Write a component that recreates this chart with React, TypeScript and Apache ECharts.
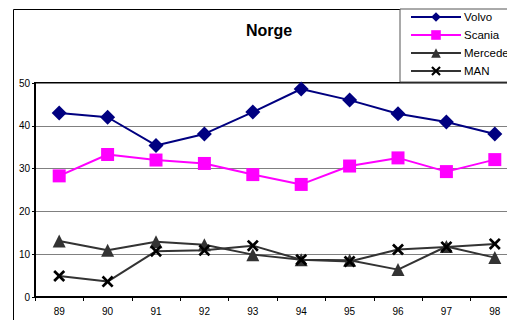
import React, { useEffect, useRef } from "react";
import * as echarts from "echarts";

const categories = ["89", "90", "91", "92", "93", "94", "95", "96", "97", "98"];
const volvo = [43.0, 42.0, 35.4, 38.1, 43.2, 48.6, 46.0, 42.8, 40.9, 38.1];
const scania = [28.3, 33.3, 32.0, 31.2, 28.6, 26.3, 30.6, 32.5, 29.3, 32.1];
const mercedes = [13.1, 10.9, 12.9, 12.2, 9.9, 8.7, 8.6, 6.4, 11.8, 9.2];
const man = [4.9, 3.6, 10.7, 10.9, 12.0, 8.7, 8.3, 11.1, 11.7, 12.4];
const yTicks = { min: 0, max: 50, interval: 10 };

const xSymbol =
  "path://M0,1.6 L1.6,0 L5,3.4 L8.4,0 L10,1.6 L6.6,5 L10,8.4 L8.4,10 L5,6.6 L1.6,10 L0,8.4 L3.4,5 Z";

const FONT = "Liberation Sans, Arial, sans-serif";

export default function App() {
  const ref = useRef<HTMLDivElement>(null);
  useEffect(() => {
    if (!ref.current) return;
    const chart = echarts.init(ref.current, null, { renderer: "svg" });
    chart.setOption({
      animation: false,
      backgroundColor: "#ffffff",
      textStyle: { fontFamily: FONT },
      graphic: [
        {
          type: "rect",
          shape: { x: 13.5, y: 9.5, width: 600, height: 400 },
          style: { fill: "none", stroke: "#000", lineWidth: 1 },
          z: 0,
        },
        {
          type: "text",
          x: 269,
          y: 30,
          style: {
            text: "Norge",
            font: "bold 16px " + FONT,
            fill: "#000",
            textAlign: "center",
            textVerticalAlign: "middle",
          },
        },
      ],
      legend: {
        orient: "vertical",
        left: 400,
        top: 9,
        padding: [2, 60, 5, 10],
        itemWidth: 50,
        itemHeight: 12,
        itemGap: 6,
        borderColor: "#555",
        borderWidth: 1,
        backgroundColor: "#fff",
        textStyle: { fontSize: 11.5, color: "#000", fontFamily: FONT, padding: [0, 0, 0, -2] },
        data: ["Volvo", "Scania", "Mercedes", "MAN"],
      },
      grid: {
        left: 35,
        top: 83,
        right: 11,
        bottom: 23,
        show: true,
        borderColor: "#000",
        borderWidth: 2,
      },
      xAxis: {
        type: "category",
        data: categories,
        boundaryGap: true,
        axisLine: { lineStyle: { color: "#000", width: 2 } },
        axisTick: { show: true, length: 4, lineStyle: { color: "#000", width: 1 } },
        axisLabel: { fontSize: 10, color: "#000", margin: 9, fontFamily: FONT },
      },
      yAxis: {
        type: "value",
        min: yTicks.min,
        max: yTicks.max,
        interval: yTicks.interval,
        axisLine: { show: true, lineStyle: { color: "#000", width: 2 } },
        axisTick: { show: true, length: 3, lineStyle: { color: "#000" } },
        axisLabel: { fontSize: 10, color: "#000", margin: 5, fontFamily: FONT },
        splitLine: { lineStyle: { color: "#808080", width: 1 } },
      },
      series: [
        {
          name: "Volvo",
          type: "line",
          data: volvo,
          symbol: "diamond",
          symbolSize: 15,
          lineStyle: { color: "#000080", width: 2 },
          itemStyle: { color: "#000080" },
        },
        {
          name: "Scania",
          type: "line",
          data: scania,
          symbol: "rect",
          symbolSize: 13,
          lineStyle: { color: "#ff00ff", width: 2 },
          itemStyle: { color: "#ff00ff" },
        },
        {
          name: "Mercedes",
          type: "line",
          data: mercedes,
          symbol: "triangle",
          symbolSize: 13,
          lineStyle: { color: "#333333", width: 2 },
          itemStyle: { color: "#333333" },
        },
        {
          name: "MAN",
          type: "line",
          data: man,
          symbol: xSymbol,
          symbolSize: 12,
          lineStyle: { color: "#333333", width: 2 },
          itemStyle: { color: "#000000" },
        },
      ],
    });
    return () => chart.dispose();
  }, []);
  return (
    <div
      style={{
        position: "absolute",
        left: 0,
        top: 0,
        width: 507,
        height: 320,
        overflow: "hidden",
        background: "#fff",
      }}
    >
      <div ref={ref} style={{ width: 530, height: 320 }} />
    </div>
  );
}
